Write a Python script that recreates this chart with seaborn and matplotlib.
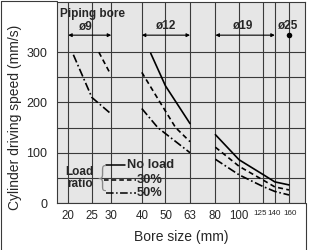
import numpy as np
import pandas as pd
import seaborn as sns
import matplotlib.pyplot as plt
import matplotlib.transforms as mtransforms
from matplotlib.lines import Line2D
from matplotlib.ticker import NullLocator

bore_ticks = [20, 25, 30, 40, 50, 63, 80, 100, 125, 140, 160]
bore_labels = ['20', '25', '30', '40', '50', '63', '80', '100', '125', '140', '160']
speed_ticks = [0, 100, 200, 300]
speed_minor = [50, 150, 250]

# piping bore ø9
p9_30_bore = [26.7, 29.6]
p9_30_speed = [300, 259]
p9_50_bore = [21, 25, 29.5]
p9_50_speed = [295, 210, 180]

# piping bore ø12
p12_0_bore = [43.5, 50, 63]
p12_0_speed = [298, 233, 158]
p12_30_bore = [40, 47, 55, 63]
p12_30_speed = [260, 204, 150, 122]
p12_50_bore = [40, 46.5, 63]
p12_50_speed = [188, 150, 100]

# piping bore ø19
p19_bore = [80, 100, 125, 140, 160]
p19_0_speed = [136, 86, 57, 42, 36]
p19_30_speed = [111, 73, 46, 32, 26]
p19_50_speed = [87, 56, 33, 23, 16]

# piping bore ø25
p25_bore = [160]
p25_speed = [335]

series = [
    ('9', '30%', p9_30_bore, p9_30_speed),
    ('9', '50%', p9_50_bore, p9_50_speed),
    ('12', 'No load', p12_0_bore, p12_0_speed),
    ('12', '30%', p12_30_bore, p12_30_speed),
    ('12', '50%', p12_50_bore, p12_50_speed),
    ('19', 'No load', p19_bore, p19_0_speed),
    ('19', '30%', p19_bore, p19_30_speed),
    ('19', '50%', p19_bore, p19_50_speed),
]
df = pd.concat([pd.DataFrame({'group': g + l, 'load': l, 'bore': b, 'speed': s})
                for g, l, b, s in series], ignore_index=True)

sns.set_style('white')
plt.rcParams['font.family'] = ['Liberation Sans', 'DejaVu Sans']

fig = plt.figure(figsize=(3.09, 2.50), dpi=100)
ax = fig.add_axes([57 / 309, 1 - 203 / 250, 248 / 309, 201 / 250])
ax.set_facecolor('#e6e6e6')

dash_map = {'No load': '', '30%': (3, 2), '50%': (5, 1.6, 1, 1.6)}
sns.lineplot(data=df, x='bore', y='speed', style='load', units='group',
             estimator=None, sort=False, color='black', dashes=dash_map,
             linewidth=1.2, legend=False, ax=ax)
sns.scatterplot(x=p25_bore, y=p25_speed, color='black', s=16, linewidth=0, ax=ax)

ax.set_xscale('log')
ax.set_xlim(18, 186)
ax.set_ylim(0, 400)
ax.set_xticks(bore_ticks)
ax.set_xticklabels(bore_labels)
ax.xaxis.set_minor_locator(NullLocator())
ax.set_yticks(speed_ticks)
ax.set_yticks(speed_minor, minor=True)
ax.grid(which='both', color='#3a3a3a', linewidth=0.8)
ax.set_axisbelow(True)
ax.tick_params(axis='both', which='both', length=0)
ax.tick_params(axis='x', labelsize=8.3, pad=5)
ax.tick_params(axis='y', labelsize=9, pad=7)
# the three crowded labels at the right end: smaller and nudged apart
for lab, dx in zip(ax.get_xticklabels()[-3:], [-2.5, -0.5, 1.5]):
    lab.set_fontsize(5.8)
    lab.set_transform(lab.get_transform() +
                      mtransforms.ScaledTranslation(dx / 100, 0, fig.dpi_scale_trans))
ax.set_xlabel('')
ax.set_ylabel('')
for sp in ax.spines.values():
    sp.set_color('#3a3a3a')
    sp.set_linewidth(0.8)

fig.text(15 / 309, 1 - 117 / 250, 'Cylinder driving speed (mm/s)', rotation=90,
         ha='center', va='center', fontsize=10)
fig.text(181 / 309, 1 - 237 / 250, 'Bore size (mm)', ha='center', va='center', fontsize=10)

# piping bore headers
hdr = dict(ha='center', va='center', fontsize=8.5, fontweight='bold')
ax.text(25.2, 377, 'Piping bore', **hdr)
ax.text(23.7, 351, 'ø9', **hdr)
ax.text(50.3, 352, 'ø12', **hdr)
ax.text(103.8, 352, 'ø19', **hdr)
ax.text(158.6, 352, 'ø25', **hdr)
arrow = dict(arrowstyle='<|-|>', lw=0.8, color='black', mutation_scale=5,
             shrinkA=0, shrinkB=0)
for x0, x1 in [(20, 30), (40, 63), (80, 140)]:
    ax.annotate('', xy=(x0, 334), xytext=(x1, 334), arrowprops=arrow)

# load ratio key
key = dict(transform=ax.transAxes, va='center', fontweight='bold')
ax.text(0.092, 0.153, 'Load', ha='center', fontsize=8.5, **key)
ax.text(0.092, 0.093, 'ratio', ha='center', fontsize=8.5, **key)
ax.text(0.180, 0.122, '{', transform=ax.transAxes, ha='center', va='center',
        fontsize=20, color='#888888', family='DejaVu Sans', fontweight='light')
ax.plot([0.198, 0.275], [0.189, 0.189], transform=ax.transAxes, color='black', lw=1.1)
ax.plot([0.190, 0.318], [0.114, 0.114], transform=ax.transAxes, color='black', lw=1.1,
        dashes=dash_map['30%'])
ax.plot([0.198, 0.318], [0.051, 0.051], transform=ax.transAxes, color='black', lw=1.1,
        dashes=dash_map['50%'])
ax.text(0.282, 0.189, 'No load', ha='left', fontsize=9.3, **key)
ax.text(0.322, 0.114, '30%', ha='left', fontsize=9.3, **key)
ax.text(0.322, 0.051, '50%', ha='left', fontsize=9.3, **key)

# outer frame
fig.add_artist(Line2D([1.5 / 309, 1.5 / 309], [0, 1 - 1 / 250], color='#3a3a3a', lw=0.8))
fig.add_artist(Line2D([1.5 / 309, 57 / 309], [1 - 1 / 250, 1 - 1 / 250], color='#3a3a3a', lw=0.8))
fig.add_artist(Line2D([305.5 / 309, 305.5 / 309], [0, 1 - 203 / 250], color='#3a3a3a', lw=0.8))

fig.savefig('out.png', dpi=100)
